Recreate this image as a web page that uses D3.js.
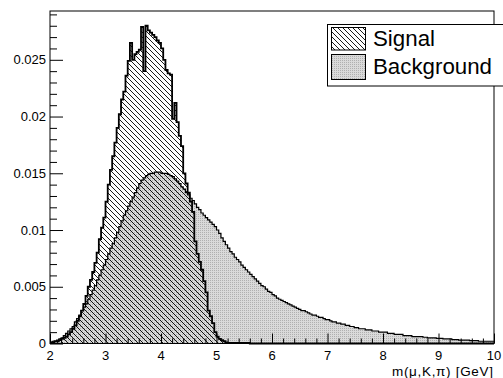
<!DOCTYPE html>
<html><head><meta charset="utf-8">
<script src="https://cdn.jsdelivr.net/npm/d3@7"></script>
<style>html,body{margin:0;padding:0;background:#fff}svg{display:block}</style>
</head><body>
<script>
// ---- data (200 bins, 2..10 GeV) ----
const xRange = [2, 10];
const signal = [
0.0001,0.0001,0.0002,0.0002,0.0003,0.0004,0.0005,0.0006,0.0008,0.0010,
0.0013,0.0016,0.0020,0.0024,0.0029,0.0035,0.0042,0.0050,0.0056,0.0063,
0.0071,0.0080,0.0092,0.0102,0.0111,0.0125,0.0140,0.0153,0.0165,0.0177,
0.0190,0.0202,0.0215,0.0222,0.0236,0.0249,0.0265,0.0250,0.0255,0.0257,
0.0259,0.0279,0.0240,0.0280,0.0276,0.0274,0.0272,0.0270,0.0267,0.0265,
0.0260,0.0250,0.0241,0.0238,0.0237,0.0198,0.0212,0.0195,0.0183,0.0174,
0.0150,0.0141,0.0133,0.0125,0.0116,0.0090,0.0079,0.0072,0.0065,0.0055,
0.0045,0.0029,0.0024,0.0018,0.0010,0.0006,0.0004,0.0003,0.0002,0.0001,
0.00005,0.00005,0.00005,0.00005,0.00005,0.00005,0.00005,0.00005,0.00005,0.00005,
0,0,0,0,0,0,0,0,0,0, 0,0,0,0,0,0,0,0,0,0, 0,0,0,0,0,0,0,0,0,0,
0,0,0,0,0,0,0,0,0,0, 0,0,0,0,0,0,0,0,0,0, 0,0,0,0,0,0,0,0,0,0,
0,0,0,0,0,0,0,0,0,0, 0,0,0,0,0,0,0,0,0,0, 0,0,0,0,0,0,0,0,0,0,
0,0,0,0,0,0,0,0,0,0, 0,0,0,0,0,0,0,0,0,0
];
const background = [
0.0001,0.0002,0.0002,0.0003,0.0004,0.0005,0.0007,0.0009,0.0011,0.0013,
0.0015,0.0019,0.0022,0.0025,0.0029,0.0032,0.0035,0.0039,0.0043,0.0047,
0.0051,0.0056,0.0060,0.0065,0.0069,0.0074,0.0079,0.0084,0.0088,0.0093,
0.0098,0.0103,0.0108,0.0113,0.0117,0.0121,0.0125,0.0129,0.0133,0.0137,
0.0141,0.0144,0.0146,0.0148,0.0149,0.0150,0.0150,0.0151,0.0151,0.0151,
0.0150,0.0150,0.0150,0.0149,0.0148,0.0147,0.0145,0.0143,0.0141,0.0138,
0.0136,0.0133,0.0131,0.0128,0.0126,0.0123,0.0120,0.0118,0.0115,0.0113,
0.0111,0.0109,0.0107,0.0105,0.0103,0.0100,0.0097,0.0093,0.0090,0.0087,
0.0084,0.0081,0.0079,0.0076,0.0074,0.0072,0.0069,0.0067,0.0065,0.0063,
0.0061,0.0059,0.0057,0.0055,0.0053,0.0051,0.0050,0.0048,0.0046,0.0045,
0.0043,0.0042,0.0040,0.0039,0.0038,0.0037,0.0036,0.0035,0.0034,0.0033,
0.0032,0.0031,0.0030,0.0029,0.0029,0.0028,0.0027,0.0026,0.0025,0.0025,
0.0024,0.0023,0.0023,0.0022,0.0021,0.0021,0.0020,0.0019,0.0019,0.0018,
0.0018,0.0017,0.0017,0.0016,0.0016,0.0015,0.0015,0.0014,0.0014,0.0013,
0.0013,0.0013,0.0012,0.0012,0.0012,0.0011,0.0011,0.0011,0.0010,0.0010,
0.0010,0.0010,0.0009,0.0009,0.0009,0.0008,0.0008,0.0008,0.0008,0.0007,
0.0007,0.0007,0.0007,0.0006,0.0006,0.0006,0.0006,0.0006,0.00055,0.00055,
0.0005,0.0005,0.0005,0.0005,0.00045,0.00045,0.00045,0.0004,0.0004,0.0004,
0.0004,0.00035,0.00035,0.00035,0.0003,0.0003,0.0003,0.0003,0.0003,0.00025,
0.00025,0.00025,0.00025,0.0002,0.0002,0.0002,0.0002,0.0002,0.0002,0.0002
];
const xTickValues = [2,3,4,5,6,7,8,9,10];
const yTickValues = [0,0.005,0.01,0.015,0.02,0.025];
const yTickLabels = ["0","0.005","0.01","0.015","0.02","0.025"];
const legendLabels = ["Signal","Background"];
const xTitle = "m(\u03BC,K,\u03C0) [GeV]";

// ---- layout ----
const W = 503, H = 378;
const L = 50, R = 494, T = 11, B = 343.5;
const font = "'Liberation Sans', Arial, Helvetica, sans-serif";

const x = d3.scaleLinear().domain(xRange).range([L, R]);
const y = d3.scaleLinear().domain([0, 0.0293]).range([B, T]);

const svg = d3.select("body").append("svg").attr("width", W).attr("height", H);
const defs = svg.append("defs");

// hatch pattern (\\\)
const hp = defs.append("pattern").attr("id","hatch").attr("patternUnits","userSpaceOnUse")
  .attr("width",5).attr("height",5);
hp.append("path").attr("d","M-1,-1 L6,6 M-1,4 L1,6 M4,-1 L6,1")
  .attr("stroke","#000").attr("stroke-width",0.9).attr("fill","none");

// background dotted pattern
const bp = defs.append("pattern").attr("id","bgpat").attr("patternUnits","userSpaceOnUse")
  .attr("width",2).attr("height",2);
bp.append("rect").attr("width",2).attr("height",2).attr("fill","#dadada");
bp.append("rect").attr("width",1).attr("height",1).attr("fill","#b0b0b0");

function binsOf(vals){
  const n = vals.length, w = (xRange[1]-xRange[0])/n;
  const pts = vals.map((v,i)=>({x0: xRange[0]+i*w, v}));
  pts.push({x0: xRange[1], v: vals[n-1]});
  return pts;
}
const area = d3.area().curve(d3.curveStepAfter).x(d=>x(d.x0)).y0(y(0)).y1(d=>y(d.v));
const line = d3.line().curve(d3.curveStepAfter).x(d=>x(d.x0)).y(d=>y(d.v));

const bgBins = binsOf(background), sgBins = binsOf(signal);

const plot = svg.append("g");
plot.append("path").attr("d", area(bgBins)).attr("fill","url(#bgpat)");
plot.append("path").attr("d", area(sgBins)).attr("fill","url(#hatch)");
plot.append("path").attr("d", line(bgBins)).attr("fill","none").attr("stroke","#000").attr("stroke-width",1.2);
plot.append("path").attr("d", line(sgBins)).attr("fill","none").attr("stroke","#000").attr("stroke-width",1.8);

// frame
svg.append("rect").attr("x",L).attr("y",T).attr("width",R-L).attr("height",B-T)
  .attr("fill","none").attr("stroke","#000").attr("stroke-width",1);

// y axis ticks
const yAxis = d3.axisRight(y).tickValues(yTickValues).tickSize(13).tickFormat("");
const gy = svg.append("g").attr("transform",`translate(${L},0)`).call(yAxis);
gy.select(".domain").remove();
const yMinor = d3.range(0, 0.0291, 0.001).filter(v => Math.abs(v/0.005 - Math.round(v/0.005))>1e-6);
const yAxisMinor = d3.axisRight(y).tickValues(yMinor).tickSize(7).tickFormat("");
const gym = svg.append("g").attr("transform",`translate(${L},0)`).call(yAxisMinor);
gym.select(".domain").remove();
svg.selectAll(".tick line").attr("stroke","#000").attr("stroke-width",1);
yTickValues.forEach((v,i)=>{
  svg.append("text").attr("x", L-4).attr("y", y(v)+4.5).attr("text-anchor","end")
    .attr("font-family",font).attr("font-size",13).text(yTickLabels[i]);
});

// x axis ticks
const xAxis = d3.axisTop(x).tickValues(xTickValues).tickSize(10).tickFormat("");
const gx = svg.append("g").attr("transform",`translate(0,${B})`).call(xAxis);
gx.select(".domain").remove();
const xMinor = d3.range(2, 10.001, 0.2).filter(v => Math.abs(v - Math.round(v))>1e-6);
const xAxisMinor = d3.axisTop(x).tickValues(xMinor).tickSize(5).tickFormat("");
const gxm = svg.append("g").attr("transform",`translate(0,${B})`).call(xAxisMinor);
gxm.select(".domain").remove();
svg.selectAll(".tick line").attr("stroke","#000").attr("stroke-width",1);
xTickValues.forEach(v=>{
  svg.append("text").attr("x", x(v)).attr("y", 359.5).attr("text-anchor","middle")
    .attr("font-family",font).attr("font-size",13).text(String(v));
});
svg.append("text").attr("x", 392).attr("y", 375.5).attr("text-anchor","start")
  .attr("font-family",font).attr("font-size",13.5)
  .attr("textLength",101).attr("lengthAdjust","spacing").text(xTitle);

// legend
const lg = svg.append("g");
lg.append("rect").attr("x",327.5).attr("y",24.5).attr("width",190).attr("height",61.5)
  .attr("fill","#fff").attr("stroke","#000").attr("stroke-width",1);
lg.append("rect").attr("x",331.5).attr("y",27.5).attr("width",34).attr("height",22.5)
  .attr("fill","url(#hatch)").attr("stroke","#000").attr("stroke-width",1);
lg.append("rect").attr("x",331.5).attr("y",54.5).attr("width",34).attr("height",25)
  .attr("fill","url(#bgpat)").attr("stroke","#000").attr("stroke-width",1);
lg.append("text").attr("x",373).attr("y",46).attr("font-family",font).attr("font-size",22.3).text(legendLabels[0]);
lg.append("text").attr("x",373).attr("y",74).attr("font-family",font).attr("font-size",22.3).text(legendLabels[1]);
</script>
</body></html>
